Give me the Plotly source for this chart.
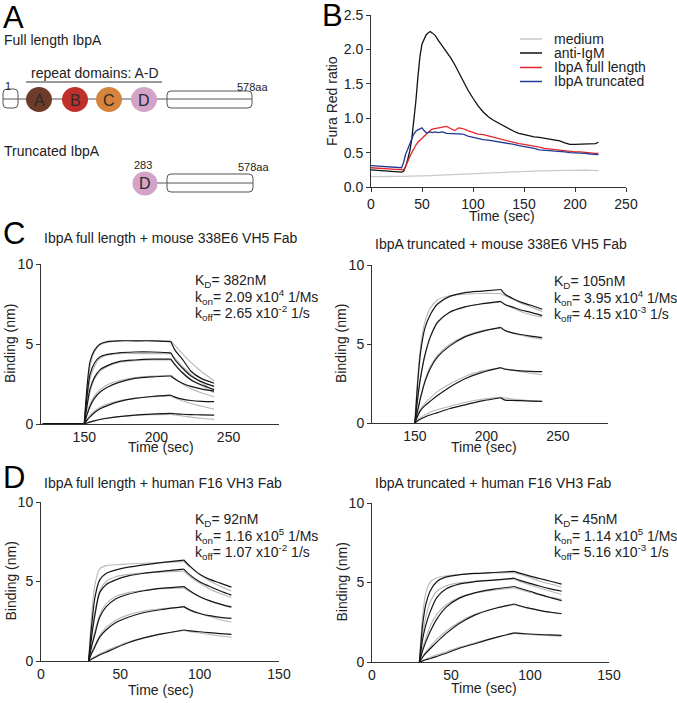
import plotly.graph_objects as go

W, H = 677, 703
def X(px): return px / W
def Y(py): return 1 - py / H

FONT = "Liberation Sans, Arial, sans-serif"
TXT = "#222222"

# ---------------- Panel A: domain diagram ----------------
domain_names = ["A", "B", "C", "D"]
domain_colors = ["#6e3a2a", "#c0302b", "#d4843c", "#d4a3c8"]
full_label = "Full length IbpA"
trunc_label = "Truncated IbpA"
repeat_label = "repeat domains: A-D"
full_start_label, full_end_label = "1", "578aa"
trunc_start_label, trunc_end_label = "283", "578aa"

# ---------------- Panel B: calcium flux ----------------
b_names = ["medium", "anti-IgM", "IbpA full length", "IbpA truncated"]
b_time = [0, 5, 10, 15, 20, 25, 30, 32, 34, 36, 38, 40, 42, 44, 46, 48, 50, 52, 54, 56, 58, 60,
          63, 66, 70, 74, 78, 82, 86, 90, 95, 100, 105, 110, 115, 120, 125, 130, 135, 140, 145,
          150, 155, 160, 165, 170, 175, 180, 185, 190, 195, 200, 205, 210, 215, 220, 223]
b_medium = [0.15, 0.15, 0.148, 0.145, 0.145, 0.146, 0.15, 0.152, 0.155, 0.156, 0.157, 0.157, 0.158,
            0.158, 0.159, 0.16, 0.16, 0.161, 0.162, 0.163, 0.165, 0.166, 0.168, 0.17, 0.172, 0.175,
            0.178, 0.181, 0.185, 0.19, 0.195, 0.2, 0.203, 0.206, 0.208, 0.21, 0.212, 0.215, 0.218,
            0.22, 0.225, 0.228, 0.23, 0.232, 0.233, 0.235, 0.237, 0.238, 0.24, 0.241, 0.243, 0.245,
            0.245, 0.244, 0.242, 0.24, 0.238]
b_antiigm = [0.25, 0.245, 0.24, 0.23, 0.22, 0.215, 0.215, 0.23, 0.30, 0.40, 0.52, 0.70, 0.95, 1.25,
             1.60, 1.90, 2.08, 2.16, 2.21, 2.24, 2.26, 2.24, 2.20, 2.13, 2.05, 1.96, 1.88, 1.78, 1.66,
             1.55, 1.41, 1.29, 1.18, 1.09, 1.02, 0.97, 0.93, 0.88, 0.85, 0.81, 0.78, 0.76, 0.74,
             0.73, 0.72, 0.71, 0.70, 0.69, 0.67, 0.64, 0.62, 0.62, 0.62, 0.63, 0.63, 0.63, 0.65]
b_full = [0.28, 0.275, 0.27, 0.265, 0.26, 0.255, 0.25, 0.25, 0.30, 0.38, 0.44, 0.50, 0.56, 0.61,
          0.65, 0.68, 0.70, 0.73, 0.77, 0.80, 0.82, 0.84, 0.85, 0.85, 0.87, 0.88, 0.85, 0.82, 0.86,
          0.85, 0.82, 0.79, 0.77, 0.76, 0.74, 0.72, 0.70, 0.68, 0.66, 0.65, 0.63, 0.62, 0.61, 0.59,
          0.58, 0.56, 0.55, 0.54, 0.53, 0.52, 0.52, 0.51, 0.51, 0.50, 0.50, 0.49, 0.49]
b_trunc = [0.31, 0.305, 0.30, 0.29, 0.285, 0.28, 0.28, 0.36, 0.48, 0.55, 0.64, 0.70, 0.77, 0.81,
           0.83, 0.84, 0.86, 0.82, 0.79, 0.79, 0.80, 0.79, 0.80, 0.79, 0.80, 0.78, 0.78, 0.77, 0.78,
           0.77, 0.74, 0.72, 0.70, 0.69, 0.68, 0.67, 0.65, 0.64, 0.63, 0.62, 0.60, 0.59, 0.58, 0.56,
           0.54, 0.54, 0.53, 0.52, 0.52, 0.51, 0.50, 0.50, 0.49, 0.49, 0.48, 0.48, 0.47]
b_colors = ["#c9c9c9", "#111111", "#e3262b", "#1f3a96"]
b_xticks = [0, 50, 100, 150, 200, 250]
b_yticks = [0.0, 0.5, 1.0, 1.5, 2.0, 2.5]

# ---------------- Panel C left: full length + 338E6 ----------------
cl_title = "IbpA full length + mouse 338E6 VH5 Fab"
cl_params = ["K<sub>D</sub>= 382nM", "k<sub>on</sub>= 2.09 x10<sup>4</sup> 1/Ms",
             "k<sub>off</sub>= 2.65 x10<sup>-2</sup> 1/s"]
cl_base_t = [121, 150]
cl_base_v = [0, 0]
cl_assoc_t = [150, 152, 154, 157, 161, 166, 174, 185, 197, 210]
cl_dissoc_t = [210, 213, 218, 224, 231, 240]
cl_data_assoc = [
    [0, 2.4, 3.9, 4.6, 5.0, 5.15, 5.2, 5.2, 5.2, 5.15],
    [0, 1.8, 3.1, 3.8, 4.2, 4.35, 4.45, 4.5, 4.5, 4.45],
    [0, 1.2, 2.2, 2.9, 3.4, 3.65, 3.9, 4.0, 4.05, 4.05],
    [0, 0.6, 1.1, 1.6, 2.0, 2.3, 2.6, 2.85, 2.95, 3.0],
    [0, 0.25, 0.45, 0.7, 0.95, 1.15, 1.4, 1.6, 1.72, 1.8],
    [0, 0.06, 0.12, 0.2, 0.28, 0.36, 0.46, 0.56, 0.62, 0.66]]
cl_data_dissoc = [
    [5.15, 4.6, 4.05, 3.3, 2.85, 2.55],
    [4.45, 4.0, 3.5, 3.0, 2.65, 2.35],
    [4.05, 3.7, 3.2, 2.75, 2.45, 2.15],
    [3.0, 2.8, 2.55, 2.35, 2.2, 2.05],
    [1.8, 1.68, 1.55, 1.47, 1.42, 1.40],
    [0.66, 0.64, 0.61, 0.59, 0.57, 0.55]]
cl_fit_assoc = [
    [0, 2.2, 3.6, 4.5, 4.95, 5.1, 5.2, 5.2, 5.2, 5.2],
    [0, 1.6, 2.8, 3.6, 4.1, 4.3, 4.4, 4.4, 4.4, 4.4],
    [0, 1.1, 2.0, 2.8, 3.3, 3.6, 3.85, 3.95, 4.0, 4.0],
    [0, 0.7, 1.25, 1.75, 2.15, 2.45, 2.7, 2.9, 3.0, 3.05],
    [0, 0.3, 0.55, 0.8, 1.05, 1.25, 1.45, 1.6, 1.7, 1.75],
    [0, 0.08, 0.14, 0.22, 0.3, 0.37, 0.45, 0.53, 0.58, 0.6]]
cl_fit_dissoc = [
    [5.2, 4.9, 4.4, 3.85, 3.3, 2.7],
    [4.4, 4.1, 3.6, 3.1, 2.6, 2.05],
    [4.0, 3.7, 3.25, 2.8, 2.4, 1.95],
    [3.05, 2.85, 2.5, 2.2, 1.95, 1.7],
    [1.75, 1.62, 1.45, 1.28, 1.12, 0.92],
    [0.6, 0.56, 0.5, 0.43, 0.36, 0.29]]

# ---------------- Panel C right: truncated + 338E6 ----------------
cr_title = "IbpA truncated + mouse 338E6 VH5 Fab"
cr_params = ["K<sub>D</sub>= 105nM", "k<sub>on</sub>= 3.95 x10<sup>4</sup> 1/Ms",
             "k<sub>off</sub>= 4.15 x10<sup>-3</sup> 1/s"]
cr_assoc_t = [150, 152, 154, 157, 161, 166, 174, 185, 197, 210]
cr_dissoc_t = [210, 213, 218, 224, 231, 239]
cr_data_assoc = [
    [0, 2.6, 4.5, 6.0, 6.9, 7.55, 8.0, 8.25, 8.35, 8.45],
    [0, 1.6, 2.9, 4.3, 5.5, 6.4, 7.0, 7.35, 7.55, 7.7],
    [0, 0.8, 1.6, 2.6, 3.5, 4.2, 4.85, 5.45, 5.8, 6.05],
    [0, 0.45, 0.8, 1.1, 1.4, 1.75, 2.25, 2.8, 3.2, 3.5],
    [0, 0.15, 0.25, 0.38, 0.52, 0.66, 0.9, 1.15, 1.4, 1.6]]
cr_data_dissoc = [
    [8.45, 8.15, 7.9, 7.65, 7.45, 7.2],
    [7.7, 7.5, 7.35, 7.15, 7.0, 6.8],
    [6.05, 5.85, 5.7, 5.6, 5.5, 5.4],
    [3.5, 3.4, 3.35, 3.3, 3.27, 3.25],
    [1.6, 1.45, 1.43, 1.41, 1.39, 1.37]]
cr_fit_assoc = [
    [0, 2.9, 4.9, 6.4, 7.3, 7.8, 8.05, 8.15, 8.2, 8.2],
    [0, 1.6, 2.9, 4.3, 5.5, 6.35, 7.0, 7.35, 7.55, 7.65],
    [0, 0.85, 1.7, 2.7, 3.6, 4.3, 4.95, 5.5, 5.85, 6.0],
    [0, 0.5, 0.9, 1.25, 1.6, 2.0, 2.45, 2.95, 3.3, 3.5],
    [0, 0.2, 0.35, 0.5, 0.7, 0.85, 1.05, 1.3, 1.5, 1.62]]
cr_fit_dissoc = [
    [8.2, 8.05, 7.85, 7.6, 7.35, 7.05],
    [7.65, 7.5, 7.3, 7.05, 6.85, 6.7],
    [6.0, 5.85, 5.7, 5.55, 5.42, 5.3],
    [3.5, 3.45, 3.35, 3.25, 3.15, 3.05],
    [1.62, 1.58, 1.52, 1.47, 1.42, 1.37]]

# ---------------- Panel D left: full length + F16 ----------------
dl_title = "IbpA full length + human F16 VH3 Fab"
dl_params = ["K<sub>D</sub>= 92nM", "k<sub>on</sub>= 1.16 x10<sup>5</sup> 1/Ms",
             "k<sub>off</sub>= 1.07 x10<sup>-2</sup> 1/s"]
dl_assoc_t = [30, 31, 32, 34, 37, 41, 47, 55, 65, 77, 90]
dl_dissoc_t = [90, 94, 100, 106, 113, 120]
dl_data_assoc = [
    [0, 1.2, 2.3, 4.0, 5.1, 5.5, 5.72, 5.9, 6.05, 6.2, 6.35],
    [0, 0.8, 1.6, 2.9, 4.3, 4.8, 5.1, 5.35, 5.52, 5.65, 5.78],
    [0, 0.5, 0.95, 1.7, 2.75, 3.4, 3.9, 4.2, 4.42, 4.58, 4.68],
    [0, 0.25, 0.5, 0.9, 1.5, 1.95, 2.4, 2.75, 3.05, 3.25, 3.42],
    [0, 0.06, 0.12, 0.22, 0.38, 0.55, 0.82, 1.15, 1.45, 1.72, 1.95]]
dl_data_dissoc = [
    [6.35, 5.95, 5.45, 5.15, 4.9, 4.65],
    [5.78, 5.4, 4.98, 4.7, 4.4, 4.14],
    [4.68, 4.4, 4.04, 3.8, 3.58, 3.4],
    [3.42, 3.2, 2.99, 2.85, 2.75, 2.68],
    [1.95, 1.9, 1.84, 1.78, 1.72, 1.67]]
dl_fit_assoc = [
    [0, 1.6, 3.0, 4.8, 5.8, 6.0, 6.05, 6.1, 6.15, 6.2, 6.25],
    [0, 0.9, 1.8, 3.1, 4.4, 5.0, 5.3, 5.45, 5.55, 5.6, 5.65],
    [0, 0.55, 1.05, 1.9, 2.9, 3.6, 4.05, 4.3, 4.45, 4.55, 4.6],
    [0, 0.3, 0.55, 1.0, 1.6, 2.1, 2.55, 2.9, 3.15, 3.3, 3.4],
    [0, 0.08, 0.15, 0.28, 0.45, 0.65, 0.9, 1.2, 1.48, 1.72, 1.92]]
dl_fit_dissoc = [
    [6.25, 5.9, 5.45, 5.05, 4.7, 4.4],
    [5.65, 5.3, 4.9, 4.55, 4.25, 4.0],
    [4.6, 4.35, 4.05, 3.8, 3.55, 3.35],
    [3.4, 3.2, 3.0, 2.8, 2.6, 2.45],
    [1.92, 1.85, 1.76, 1.67, 1.57, 1.5]]

# ---------------- Panel D right: truncated + F16 ----------------
dr_title = "IbpA truncated + human F16 VH3 Fab"
dr_params = ["K<sub>D</sub>= 45nM", "k<sub>on</sub>= 1.14 x10<sup>5</sup> 1/Ms",
             "k<sub>off</sub>= 5.16 x10<sup>-3</sup> 1/s"]
dr_assoc_t = [30, 31, 32, 34, 37, 41, 47, 55, 65, 77, 90]
dr_dissoc_t = [90, 94, 100, 106, 113, 120]
dr_data_assoc = [
    [0, 1.2, 2.3, 3.6, 4.5, 5.05, 5.35, 5.48, 5.57, 5.63, 5.7],
    [0, 0.7, 1.4, 2.3, 3.2, 4.05, 4.6, 4.9, 5.05, 5.15, 5.27],
    [0, 0.35, 0.7, 1.25, 1.95, 2.7, 3.45, 4.0, 4.35, 4.58, 4.75],
    [0, 0.15, 0.3, 0.55, 0.85, 1.25, 1.8, 2.4, 2.95, 3.35, 3.65],
    [0, 0.03, 0.07, 0.14, 0.22, 0.35, 0.55, 0.85, 1.15, 1.5, 1.83]]
dr_data_dissoc = [
    [5.7, 5.57, 5.4, 5.25, 5.08, 4.9],
    [5.27, 5.12, 4.95, 4.78, 4.6, 4.45],
    [4.75, 4.62, 4.45, 4.25, 4.05, 3.86],
    [3.65, 3.52, 3.37, 3.25, 3.13, 3.05],
    [1.83, 1.8, 1.76, 1.73, 1.7, 1.68]]
dr_fit_assoc = [
    [0, 1.6, 2.9, 4.3, 5.05, 5.3, 5.42, 5.5, 5.55, 5.6, 5.62],
    [0, 0.9, 1.7, 2.8, 3.8, 4.45, 4.8, 4.98, 5.08, 5.15, 5.2],
    [0, 0.45, 0.85, 1.5, 2.3, 3.0, 3.6, 4.05, 4.35, 4.52, 4.65],
    [0, 0.18, 0.35, 0.62, 1.0, 1.42, 1.95, 2.5, 3.0, 3.35, 3.6],
    [0, 0.05, 0.1, 0.18, 0.3, 0.45, 0.65, 0.92, 1.2, 1.52, 1.8]]
dr_fit_dissoc = [
    [5.62, 5.5, 5.3, 5.1, 4.9, 4.72],
    [5.2, 5.05, 4.85, 4.65, 4.45, 4.25],
    [4.65, 4.55, 4.38, 4.22, 4.07, 3.95],
    [3.6, 3.5, 3.36, 3.24, 3.12, 3.02],
    [1.8, 1.77, 1.73, 1.69, 1.66, 1.63]]

c_xticks = [150, 200, 250]
d_xticks = [0, 50, 100, 150]
bind_yticks = [0, 5, 10]

# =====================================================================
fig = go.Figure()
annotations = []
shapes = []

def ann(text, x, y, size=14, xanchor="left", yanchor="middle", angle=0, color=TXT):
    annotations.append(dict(text=text, x=X(x), y=Y(y), xref="paper", yref="paper",
                            xanchor=xanchor, yanchor=yanchor, showarrow=False, textangle=angle,
                            borderpad=0, font=dict(family=FONT, size=size, color=color)))

def axis_style(dom, rng, tickvals, anchor, fmt=None, ticks="outside"):
    d = dict(domain=dom, range=rng, tickvals=tickvals, anchor=anchor, showline=True,
             linecolor="#333", linewidth=1, ticks=ticks, ticklen=4, tickwidth=1,
             tickcolor="#333", showgrid=False, zeroline=False, fixedrange=True,
             automargin=False, tickfont=dict(family=FONT, size=14, color=TXT))
    if fmt:
        d["tickformat"] = fmt
    return d

# ---- Panel B ----
b_series = [b_medium, b_antiigm, b_full, b_trunc]
for name, vals, col in zip(b_names, b_series, b_colors):
    fig.add_trace(go.Scatter(x=b_time, y=vals, mode="lines", name=name, showlegend=False,
                             line=dict(color=col, width=1.3), xaxis="x", yaxis="y"))
legend_rows = [39, 53, 67.5, 81.5]
for name, col, ry in zip(b_names, b_colors, legend_rows):
    shapes.append(dict(type="line", xref="paper", yref="paper", x0=X(520), x1=X(542),
                       y0=Y(ry), y1=Y(ry), line=dict(color=col, width=1.5)))
    ann(name, 553, ry, size=14)

layout_axes = {}
layout_axes["xaxis"] = axis_style([X(371), X(626)], [0, 250], b_xticks, "y")
layout_axes["yaxis"] = axis_style([Y(187), Y(15)], [0, 2.5], b_yticks, "x", fmt=".1f")
ann("Fura Red ratio", 332, 101, angle=-90, xanchor="center")
ann("Time (sec)", 502, 216, xanchor="center")

# ---- Kinetic panels ----
panels = [
    dict(idx=2, title=cl_title, params=cl_params, at=cl_assoc_t, dt=cl_dissoc_t,
         da=cl_data_assoc, dd=cl_data_dissoc, fa=cl_fit_assoc, fd=cl_fit_dissoc,
         xr=[120, 285], xt=c_xticks, xd=(41, 279), yd=(264, 424), title_y=238,
         par_x=194, par_y=(281, 297, 313), xt_y=447, yt_x=10, xt_x=161),
    dict(idx=3, title=cr_title, params=cr_params, at=cr_assoc_t, dt=cr_dissoc_t,
         da=cr_data_assoc, dd=cr_data_dissoc, fa=cr_fit_assoc, fd=cr_fit_dissoc,
         xr=[120, 285], xt=c_xticks, xd=(372, 608), yd=(265, 423), title_y=244,
         par_x=553, par_y=(282, 298, 314), xt_y=447, yt_x=341, xt_x=484),
    dict(idx=4, title=dl_title, params=dl_params, at=dl_assoc_t, dt=dl_dissoc_t,
         da=dl_data_assoc, dd=dl_data_dissoc, fa=dl_fit_assoc, fd=dl_fit_dissoc,
         xr=[0, 150], xt=d_xticks, xd=(41, 279), yd=(502, 661), title_y=483,
         par_x=194, par_y=(520, 536, 552), xt_y=690, yt_x=10, xt_x=161),
    dict(idx=5, title=dr_title, params=dr_params, at=dr_assoc_t, dt=dr_dissoc_t,
         da=dr_data_assoc, dd=dr_data_dissoc, fa=dr_fit_assoc, fd=dr_fit_dissoc,
         xr=[0, 150], xt=d_xticks, xd=(372, 609), yd=(503, 662), title_y=483,
         par_x=553, par_y=(520, 536, 552), xt_y=688, yt_x=341, xt_x=484),
]

for p in panels:
    i = p["idx"]
    xa, ya = f"x{i}", f"y{i}"
    layout_axes[f"xaxis{i}"] = axis_style([X(p["xd"][0]), X(p["xd"][1])], p["xr"], p["xt"], ya,
                                          ticks="")
    layout_axes[f"yaxis{i}"] = axis_style([Y(p["yd"][1]), Y(p["yd"][0])], [0, 10], bind_yticks, xa)
    if i == 2:
        fig.add_trace(go.Scatter(x=cl_base_t, y=cl_base_v, mode="lines", showlegend=False,
                                 line=dict(color="#111", width=2), xaxis=xa, yaxis=ya))
    for seg_t, fits in ((p["at"], p["fa"]), (p["dt"], p["fd"])):
        for vals in fits:
            fig.add_trace(go.Scatter(x=seg_t, y=vals, mode="lines", showlegend=False,
                                     line=dict(color="#b8b8b8", width=1.1, shape="spline",
                                               smoothing=0.8),
                                     xaxis=xa, yaxis=ya))
    for seg_t, datas in ((p["at"], p["da"]), (p["dt"], p["dd"])):
        for vals in datas:
            fig.add_trace(go.Scatter(x=seg_t, y=vals, mode="lines", showlegend=False,
                                     line=dict(color="#161616", width=1.2, shape="spline",
                                               smoothing=0.8),
                                     xaxis=xa, yaxis=ya))
    ann(p["title"], p["xd"][0] + 2, p["title_y"], size=14)
    for txt, py in zip(p["params"], p["par_y"]):
        ann(txt, p["par_x"], py, size=14)
    ann("Binding (nm)", p["yt_x"], (p["yd"][0] + p["yd"][1]) / 2, angle=-90, xanchor="center")
    ann("Time (sec)", p["xt_x"], p["xt_y"], xanchor="center")

# ---- Panel letters ----
for letter, lx, ly in (("A", 2, 17), ("B", 321, 16), ("C", 2, 234), ("D", 2, 477)):
    ann(letter, lx, ly, size=31, color="#000")

# ---- Panel A drawing ----
def rounded_rect(x0, y0, x1, y1, r):
    pts = (f"M {X(x0 + r)},{Y(y0)} L {X(x1 - r)},{Y(y0)} Q {X(x1)},{Y(y0)} {X(x1)},{Y(y0 + r)} "
           f"L {X(x1)},{Y(y1 - r)} Q {X(x1)},{Y(y1)} {X(x1 - r)},{Y(y1)} "
           f"L {X(x0 + r)},{Y(y1)} Q {X(x0)},{Y(y1)} {X(x0)},{Y(y1 - r)} "
           f"L {X(x0)},{Y(y0 + r)} Q {X(x0)},{Y(y0)} {X(x0 + r)},{Y(y0)} Z")
    return dict(type="path", path=pts, xref="paper", yref="paper",
                line=dict(color="#555", width=1), fillcolor="rgba(0,0,0,0)")

def hline(x0, x1, y, col="#555"):
    return dict(type="line", xref="paper", yref="paper", x0=X(x0), x1=X(x1), y0=Y(y), y1=Y(y),
                line=dict(color=col, width=1))

def ellipse(cx, cy, rx, ry, col):
    return dict(type="circle", xref="paper", yref="paper", x0=X(cx - rx), x1=X(cx + rx),
                y0=Y(cy + ry), y1=Y(cy - ry), fillcolor=col, line=dict(color=col, width=0))

ann(full_label, 3, 40, size=14)
ann(repeat_label, 30, 73, size=14)
shapes.append(hline(26, 162, 82, "#333"))
ann(full_start_label, 4, 86, size=11)
ann(full_end_label, 236, 87, size=11)
shapes.append(hline(3, 252, 99))
shapes.append(rounded_rect(3, 89, 18, 108, 4))
domain_cx = [39, 75, 109, 144]
for name, col, cx in zip(domain_names, domain_colors, domain_cx):
    shapes.append(ellipse(cx, 99.5, 13, 12.5, col))
    ann(name, cx, 100, size=16, xanchor="center", color="#2a2a2a")
shapes.append(rounded_rect(167, 91, 252, 108, 4))

ann(trunc_label, 3, 151, size=14)
ann(trunc_start_label, 143, 165, size=11, xanchor="center")
ann(trunc_end_label, 237, 167, size=11)
shapes.append(hline(145, 253, 183))
shapes.append(ellipse(145, 183.5, 12.5, 12, domain_colors[3]))
ann(domain_names[3], 145, 184, size=16, xanchor="center", color="#2a2a2a")
shapes.append(rounded_rect(167, 174, 253, 192, 4))

fig.update_layout(width=W, height=H, autosize=False, margin=dict(l=0, r=0, t=0, b=0, pad=0),
                  paper_bgcolor="white", plot_bgcolor="white", showlegend=False,
                  annotations=annotations, shapes=shapes, font=dict(family=FONT, color=TXT),
                  **layout_axes)

fig.write_html("out.html", config={"displayModeBar": False, "staticPlot": True},
               post_script="document.body.style.margin='0px';document.body.style.padding='0px';")
